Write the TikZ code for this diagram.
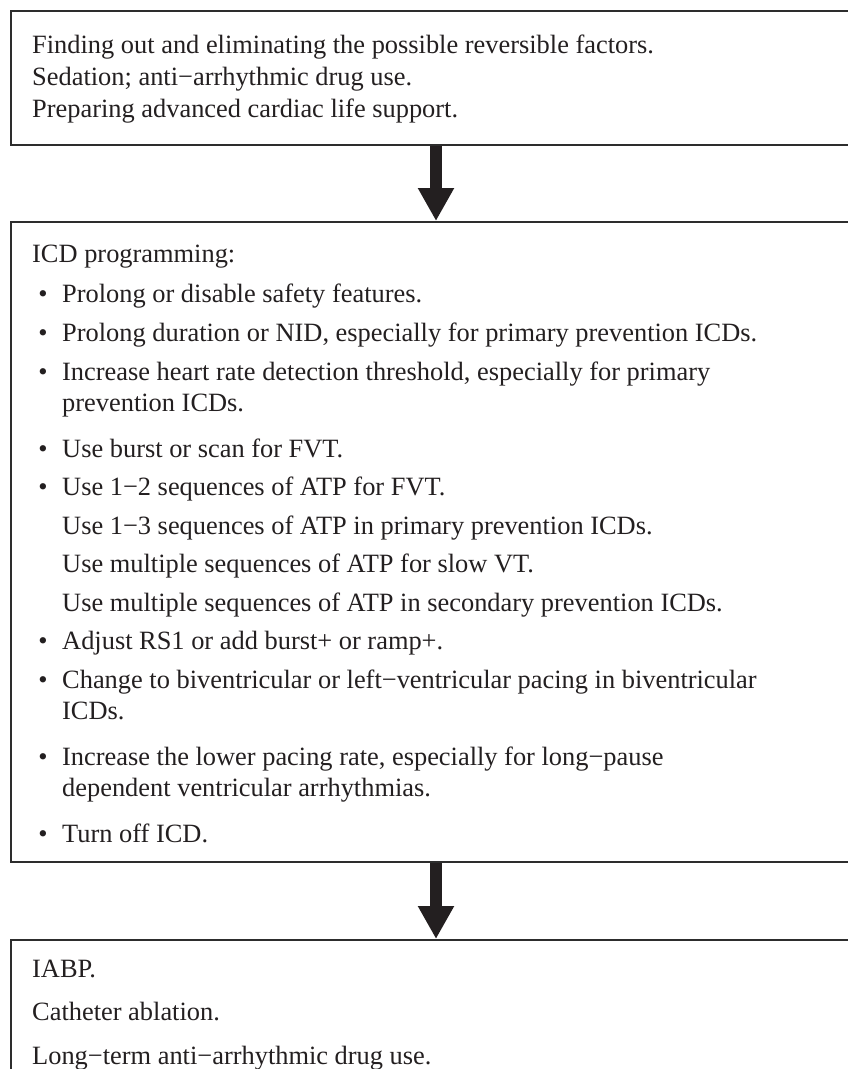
\documentclass[tikz,border=0pt]{standalone}
\usepackage{fontspec}
\setmainfont{Liberation Serif}
\usetikzlibrary{arrows.meta}
\definecolor{ink}{RGB}{35,31,32}
\definecolor{frame}{RGB}{45,45,45}
\begin{document}
\begin{tikzpicture}[x=1pt,y=-1pt,
  box/.style={draw=frame, line width=2pt, minimum width=850pt, anchor=north west, inner sep=0pt},
  txt/.style={anchor=base west, inner sep=0pt, text=ink, font=\fontsize{26.4}{31}\selectfont},
  bul/.style={anchor=base, inner sep=0pt, text=ink, font=\fontsize{26.4}{31}\selectfont},
  flow/.style={draw=ink, line width=12pt, -{Triangle[width=34pt,length=33pt]}}]
\useasboundingbox (0,0) rectangle (848,1069);
\clip (0,0) rectangle (848,1069);
% boxes
\node[box, minimum height=134pt] (b1) at (10,10) {};
\node[box, minimum height=640pt] (b2) at (10,221) {};
\node[box, minimum height=200pt] (b3) at (10,939) {};
\draw[flow] (b1.south) -- (b2.north);
\draw[flow] (b2.south) -- (b3.north);
% top box text
\node[txt] (t1) at (32,53) {Finding out and eliminating the possible reversible factors.};
\node[txt] (t2) at (32,85) {Sedation; anti−arrhythmic drug use.};
\node[txt] (t3) at (32,117) {Preparing advanced cardiac life support.};
% middle box text
\node[txt] (m0) at (32,262) {ICD programming:};
\node[bul] (u1) at (43,302) {•};
\node[txt] (m1) at (62,302) {Prolong or disable safety features.};
\node[bul] (u2) at (43,341) {•};
\node[txt] (m2) at (62,341) {Prolong duration or NID, especially for primary prevention ICDs.};
\node[bul] (u3) at (43,380) {•};
\node[txt] (m3a) at (62,380) {Increase heart rate detection threshold, especially for primary};
\node[txt] (m3b) at (62,411) {prevention ICDs.};
\node[bul] (u4) at (43,457) {•};
\node[txt] (m4) at (62,457) {Use burst or scan for FVT.};
\node[bul] (u5) at (43,495) {•};
\node[txt] (m5a) at (62,495) {Use 1−2 sequences of ATP for FVT.};
\node[txt] (m5b) at (62,534) {Use 1−3 sequences of ATP in primary prevention ICDs.};
\node[txt] (m5c) at (62,572) {Use multiple sequences of ATP for slow VT.};
\node[txt] (m5d) at (62,611) {Use multiple sequences of ATP in secondary prevention ICDs.};
\node[bul] (u6) at (43,649) {•};
\node[txt] (m6) at (62,649) {Adjust RS1 or add burst+ or ramp+.};
\node[bul] (u7) at (43,688) {•};
\node[txt] (m7a) at (62,688) {Change to biventricular or left−ventricular pacing in biventricular};
\node[txt] (m7b) at (62,719) {ICDs.};
\node[bul] (u8) at (43,765) {•};
\node[txt] (m8a) at (62,765) {Increase the lower pacing rate, especially for long−pause};
\node[txt] (m8b) at (62,796) {dependent ventricular arrhythmias.};
\node[bul] (u9) at (43,842) {•};
\node[txt] (m9) at (62,842) {Turn off ICD.};
% bottom box text
\node[txt] (c1) at (32,977) {IABP.};
\node[txt] (c2) at (32,1020) {Catheter ablation.};
\node[txt] (c3) at (32,1064) {Long−term anti−arrhythmic drug use.};
\end{tikzpicture}
\end{document}
